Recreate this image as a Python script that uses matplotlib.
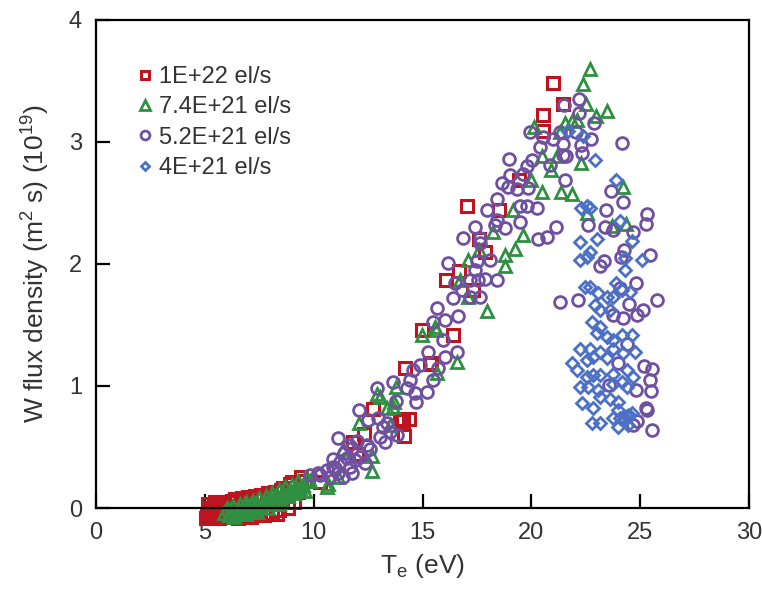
import matplotlib
matplotlib.use("Agg")
import matplotlib.pyplot as plt

plt.rcParams['font.family'] = ['Liberation Sans', 'DejaVu Sans']
plt.rcParams['mathtext.fontset'] = 'custom'
plt.rcParams['mathtext.rm'] = 'Liberation Sans'
plt.rcParams['mathtext.default'] = 'regular'

# Te (eV) and W flux density (1e19 /m2 s), one pair of lists per fuelling rate
red_te = [5.1, 5.2, 5.3, 5.4, 5.5, 5.6, 5.7, 5.8, 5.9, 6.0, 6.1, 6.3, 6.4, 6.6, 6.7,
          6.9, 7.0, 7.2, 7.3, 7.5, 7.6, 7.8, 7.9, 8.1, 8.2, 8.4, 8.5, 8.8, 8.9, 9.1,
          9.3, 9.4, 9.6, 5.15, 5.35, 5.55, 5.75, 5.95, 5.05, 5.25, 5.45, 5.65,
          5.85, 6.05, 6.25, 6.5, 6.8, 7.1, 7.4, 7.7, 8.0, 8.3, 8.6, 9.0,
          10.3, 11.8, 12.0, 12.3, 12.72, 13.96, 14.15, 14.1, 14.4, 14.2, 15.4,
          15.35, 14.97, 16.4, 16.08, 16.68, 17.3, 17.87, 17.6, 17.04, 18.5,
          19.43, 20.53, 20.53, 21.45, 21.0]
red_w = [-0.05, 0.0, -0.07, 0.02, -0.04, 0.03, -0.06, 0.0, 0.04, -0.07, 0.05, -0.06, 0.07, -0.07, 0.08,
         -0.07, 0.09, -0.06, 0.10, -0.06, 0.11, -0.05, 0.12, -0.04, 0.13, -0.02, 0.15, 0.0, 0.20, 0.05,
         0.13, 0.25, 0.22, 0.03, -0.02, 0.0, 0.05, -0.02, -0.08, -0.04, 0.05, -0.08,
         -0.05, 0.02, 0.06, -0.08, 0.06, -0.07, 0.08, -0.06, 0.10, -0.05, 0.16, 0.21,
         0.21, 0.54, 0.44, 0.61, 0.81, 0.73, 0.59, 0.71, 0.73, 1.15, 1.19,
         1.18, 1.46, 1.42, 1.87, 1.94, 1.79, 2.10, 2.20, 2.47, 2.44,
         2.69, 3.09, 3.22, 3.31, 3.48]

green_te = [5.9, 6.0, 6.1, 6.2, 6.3, 6.4, 6.5, 6.6, 6.7, 6.8, 6.9, 7.0, 7.1, 7.2, 7.3,
            7.4, 7.5, 7.6, 7.7, 7.8, 7.9, 8.0, 8.1, 8.2, 8.3, 8.4, 8.5, 8.6, 8.7, 8.8,
            8.9, 9.0, 9.1, 9.2, 9.3, 9.5, 9.7, 6.35, 6.9, 7.4, 7.9, 8.4,
            6.15, 6.55, 6.95, 7.35, 7.75, 8.15, 8.55, 8.95, 9.35, 9.6, 9.85,
            10.6, 10.66, 11.1, 11.35, 12.1, 12.68, 12.7, 12.9, 13.37, 13.7, 13.8,
            13.05, 13.64, 13.5, 14.97, 15.57, 15.6, 15.66, 16.58, 16.72, 17.1,
            17.95, 17.1, 17.6, 18.25, 18.8, 18.8, 19.25, 19.6, 19.15, 19.98,
            20.5, 21.36, 21.87, 22.55, 23.7, 24.35, 24.2, 20.9, 20.5, 21.2,
            22.28, 20.1, 21.3, 21.54, 21.87, 22.1, 22.97, 23.47, 22.5, 22.37, 22.7]
green_w = [-0.04, 0.0, -0.06, -0.02, 0.02, -0.05, 0.0, 0.03, -0.04, 0.01, 0.05, -0.03, 0.03, 0.06, -0.01,
           0.04, 0.08, 0.01, 0.06, 0.10, 0.03, 0.08, 0.12, 0.05, 0.10, 0.15, 0.07, 0.12, 0.17, 0.10,
           0.14, 0.19, 0.12, 0.17, 0.22, 0.19, 0.24, -0.07, -0.05, -0.03, 0.0, 0.03,
           -0.02, -0.02, 0.02, 0.02, 0.05, 0.07, 0.10, 0.13, 0.16, 0.14, 0.22,
           0.17, 0.20, 0.25, 0.48, 0.70, 0.43, 0.30, 0.93, 0.82, 0.87, 0.99,
           0.91, 0.83, 0.68, 1.42, 1.48, 1.46, 1.11, 1.20, 1.87, 1.73,
           1.61, 2.03, 2.11, 2.26, 2.07, 1.98, 2.12, 2.24, 2.44, 2.69,
           2.59, 2.59, 2.57, 2.42, 2.31, 2.33, 2.63, 2.77, 2.88, 2.88,
           2.83, 3.12, 3.08, 3.15, 3.17, 3.18, 3.21, 3.25, 3.31, 3.47, 3.60]

purple_te = [21.5, 22.19, 22.19, 22.88, 22.74, 22.28, 22.32, 24.16, 19.94, 20.53,
             21.0, 21.45, 20.39, 21.45, 21.6, 22.05, 21.3, 18.97, 20.03, 19.8,
             19.6, 19.0, 18.65, 20.85, 21.55, 18.93, 19.34, 19.84, 23.66, 18.42,
             24.2, 23.43, 22.6, 23.38, 23.75, 24.67, 25.31, 25.26, 24.25, 24.12,
             25.45, 23.34, 23.15, 24.8, 21.13, 24.07,
             17.96, 18.42, 18.33, 18.79, 19.48, 19.8, 20.26, 19.48, 20.3, 20.7,
             17.41, 16.86, 17.64, 17.64, 18.1, 17.5, 16.17, 17.41, 16.49, 16.8,
             17.18, 17.55, 17.87, 18.42, 16.4, 17.64, 17.18, 15.66, 16.63, 16.03,
             15.48, 15.94, 16.58, 16.03, 15.25, 14.88, 14.56, 15.71, 15.48, 14.42,
             14.29, 15.2, 14.65,
             21.3, 22.14, 24.48, 25.13, 25.77, 24.2, 24.85, 23.75, 24.39, 23.98,
             25.17, 25.54, 25.45, 25.49, 23.56, 24.8, 25.26, 25.31, 24.85, 25.54,
             24.67,
             13.64, 12.9, 14.7, 12.08, 12.5, 12.95, 13.37, 13.05, 13.5, 13.83,
             11.12, 11.76, 12.45, 12.13, 12.59, 11.53, 11.21, 10.89, 11.67, 10.61,
             11.12, 11.76, 10.29, 10.75, 11.35, 9.83, 11.9, 12.36, 13.8, 10.2,
             10.9, 11.4, 11.0, 12.0, 11.6, 13.18, 13.27]
purple_w = [3.30, 3.35, 3.24, 3.15, 3.02, 2.97, 2.91, 2.99, 3.08, 3.04,
            3.02, 2.98, 2.96, 2.89, 2.88, 3.08, 3.08, 2.86, 2.85, 2.80,
            2.74, 2.73, 2.66, 2.81, 2.69, 2.63, 2.61, 2.62, 2.60, 2.53,
            2.51, 2.44, 2.32, 2.30, 2.28, 2.26, 2.41, 2.33, 2.11, 2.06,
            2.07, 2.02, 1.98, 1.84, 2.30, 1.80,
            2.44, 2.36, 2.32, 2.29, 2.47, 2.47, 2.46, 2.34, 2.20, 2.22,
            2.30, 2.21, 2.21, 2.17, 2.03, 2.02, 2.01, 1.95, 1.84, 1.79,
            1.87, 1.87, 1.88, 1.87, 1.72, 1.73, 1.73, 1.64, 1.57, 1.54,
            1.52, 1.38, 1.28, 1.24, 1.28, 1.17, 1.13, 1.15, 1.05, 1.05,
            0.98, 0.95, 0.94,
            1.69, 1.70, 1.67, 1.62, 1.70, 1.56, 1.58, 1.58, 1.34, 1.19,
            1.16, 1.14, 1.05, 0.96, 1.01, 0.97, 0.82, 0.80, 0.71, 0.64,
            0.68,
            1.03, 0.98, 0.87, 0.80, 0.72, 0.74, 0.70, 0.58, 0.62, 0.60,
            0.57, 0.49, 0.52, 0.42, 0.48, 0.41, 0.38, 0.34, 0.34, 0.31,
            0.29, 0.29, 0.27, 0.25, 0.25, 0.27, 0.39, 0.37, 0.88, 0.29,
            0.40, 0.45, 0.33, 0.55, 0.52, 0.66, 0.54]

blue_te = [21.7, 22.37, 22.92, 23.89, 22.55, 22.28, 22.69, 24.07, 24.62, 22.23,
           23.01, 22.69, 22.23, 22.55, 24.3, 24.3, 25.08, 23.89, 24.53, 22.46,
           22.69, 23.06, 23.47, 23.75, 24.16, 22.92, 23.15, 23.6, 22.78, 23.15,
           23.01, 23.47, 23.75, 24.16, 24.62, 22.23, 22.69, 23.15, 23.75, 24.21,
           24.76, 22.83, 22.55, 23.47, 21.86, 22.09, 22.55, 22.83, 23.15, 23.75,
           24.39, 24.67, 22.23, 22.6, 23.06, 23.75, 24.16, 24.39, 22.32, 22.83,
           23.6, 23.98, 23.15, 23.75, 24.07, 24.39, 22.78, 23.15, 23.98, 24.62,
           24.44, 24.0, 24.3, 24.5]
blue_w = [3.09, 3.05, 2.85, 2.69, 2.47, 2.46, 2.46, 2.35, 2.19, 2.18,
          2.20, 2.10, 2.03, 2.06, 2.05, 1.95, 2.03, 1.84, 1.77, 1.81,
          1.81, 1.76, 1.73, 1.73, 1.79, 1.66, 1.62, 1.62, 1.52, 1.48,
          1.43, 1.40, 1.38, 1.42, 1.42, 1.30, 1.30, 1.28, 1.30, 1.27,
          1.28, 1.24, 1.21, 1.23, 1.19, 1.13, 1.07, 1.09, 1.09, 1.10,
          1.13, 1.07, 0.99, 0.99, 0.97, 1.02, 1.03, 0.99, 0.86, 0.82,
          0.89, 0.87, 0.91, 0.74, 0.74, 0.75, 0.70, 0.70, 0.66, 0.78,
          0.68, 0.80, 0.72, 0.76]

fig = plt.figure(figsize=(7.62, 5.89), dpi=100)
ax = fig.add_axes([0.126, 0.1375, 0.857, 0.829])

ax.plot(red_te, red_w, ls='none', marker='s', ms=8, mfc='none', mec='#BE1420',
        mew=2.2, clip_on=False, label='1E+22 el/s')
ax.plot(green_te, green_w, ls='none', marker='^', ms=9, mfc='none', mec='#2E9040',
        mew=2.0, clip_on=False, label='7.4E+21 el/s')
ax.plot(purple_te, purple_w, ls='none', marker='o', ms=8.5, mfc='none', mec='#7050A0',
        mew=2.0, clip_on=False, label='5.2E+21 el/s')
ax.plot(blue_te, blue_w, ls='none', marker='D', ms=6, mfc='none', mec='#4B70C6',
        mew=2.0, clip_on=False, label='4E+21 el/s')

ax.set_xlim(0, 30)
ax.set_ylim(0, 4)
ax.set_xticks(range(0, 31, 5))
ax.set_yticks(range(0, 5))
ax.tick_params(direction='in', length=10, width=1.6, labelsize=17,
               labelcolor='#333333', pad=10)
for sp in ax.spines.values():
    sp.set_linewidth(1.6)

ax.set_xlabel('T$_e$ (eV)', fontsize=19, color='#333333', labelpad=6)
ax.set_ylabel('W flux density (m$^2$ s) (10$^{19}$)', fontsize=19, color='#333333',
              labelpad=12)

ax.legend(loc='upper left', bbox_to_anchor=(0.064, 0.905), frameon=False,
          fontsize=17, borderpad=0, borderaxespad=0, handlelength=0.6,
          handletextpad=0.3, labelspacing=0.35, markerscale=0.75,
          labelcolor='#333333')

fig.savefig('out.png', dpi=100)
